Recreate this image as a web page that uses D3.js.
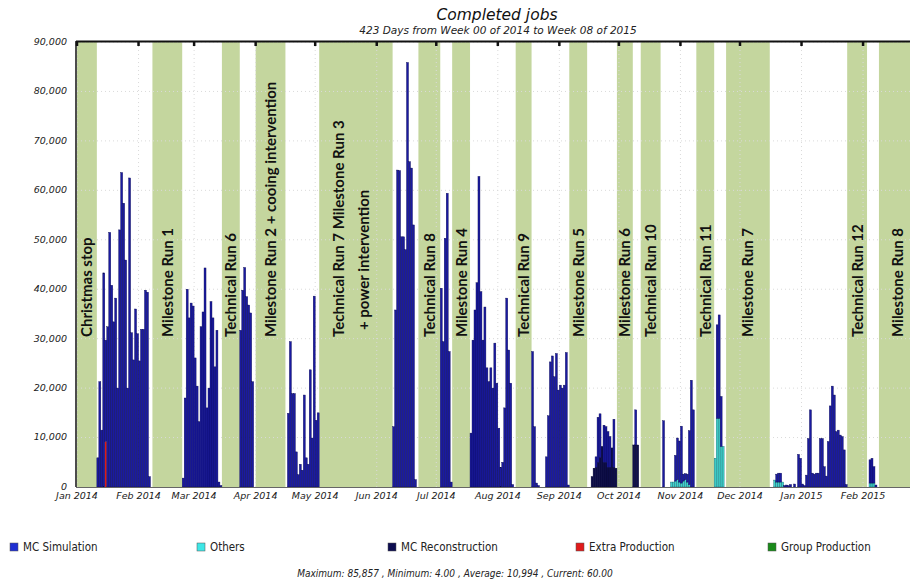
<!DOCTYPE html>
<html>
<head>
<meta charset="utf-8">
<script src="https://cdn.jsdelivr.net/npm/d3@7"></script>
<style>
  body { margin: 0; background: #fff; }
  svg { display: block; }
</style>
</head>
<body>
<div id="chart"></div>
<script>
// Daily completed jobs. Each run = [first day, values for consecutive days]
var simRuns = [
  ["2014-01-11", [5900, 21300, 11500, 43300, 20500, 32400, 51500, 40800, 33400, 38200, 20000, 52000, 63600, 57400,
                  45900, 20000, 62500, 31200, 25700, 36000, 31000, 25500, 31900, 31900, 39800, 39400, 2100]],
  ["2014-02-23", [1800, 18000, 40000, 34200, 37200, 36600, 26100, 20400, 13200, 32400, 35400, 44300, 16000, 20000,
                  37500, 34200, 24300, 31700, 1000, 300]],
  ["2014-03-24", [31700, 39800, 44400, 38500, 36800, 35200, 21300]],
  ["2014-04-17", [14900, 29400, 18900, 18900, 7100, 2500, 4600, 3400, 18600, 5900, 4600, 23700, 9900, 38600, 13500, 15000]],
  ["2014-06-09", [12200, 35800, 64100, 64000, 50600, 50600, 48000, 85857, 65800, 64500, 53000, 1500]],
  ["2014-07-03", [40200, 29400, 50300, 59400, 27400, 1000]],
  ["2014-07-18", [10900, 29700, 35800, 41300, 62800, 39500, 29700, 36400, 24100, 21300, 24100, 20000, 29100, 21000,
                  11900, 4000, 5000, 16000, 38200, 27700, 21000, 500]],
  ["2014-08-18", [27400, 12200, 800, 300]],
  ["2014-08-25", [6100, 14400, 25300, 26500, 22300, 27000, 19600, 20600, 20000, 20600, 27200, 400]],
  ["2014-09-17", [0, 0, 2100, 9100, 8800, 0, 7500, 7200, 7200, 6200, 0, 9700, 0]],
  ["2014-10-08", [0, 7100, 0]],
  ["2014-10-23", [13400]],
  ["2014-10-27", [0, 0, 5200, 8400, 8300, 11500, 1400, 1200, 1600, 10900, 21600, 15600]],
  ["2014-11-18", [0, 18900, 20900, 10100, 0]],
  ["2014-12-18", [0, 1600, 1800, 1800, 0, 300, 400, 300, 500, 0, 600, 0, 6600, 5800, 600, 300, 2400, 9800, 15600,
                  2800, 2600, 2800, 2800, 9800, 9800, 4100, 2200, 9200, 16400, 20400, 18600, 11200, 11500, 10500,
                  10200, 7500, 500]],
  ["2015-02-04", [4700, 5000, 3300, 400]]
];
var othersRuns = [
  ["2014-10-27", [1000, 1000, 1200, 1500, 1000, 800, 1200, 1500, 1000, 500]],
  ["2014-11-18", [5800, 13900, 13900, 8200, 8200]],
  ["2014-12-18", [1400, 1000, 1000, 1000, 1000]],
  ["2015-02-04", [800, 800, 800]]
];
var recoRuns = [
  ["2014-09-17", [2100, 3800, 4000, 5000, 6000, 8200, 5000, 5000, 4000, 4000, 7900, 4000, 3800]],
  ["2014-10-08", [8500, 8500, 8500]]
];
var extraRuns = [
  ["2014-01-15", [9200]]
];
var groupRuns = [];

// shaded run periods: [start, end, label lines]
var runBands = [
  ["2014-01-01", "2014-01-11", ["Christmas stop"]],
  ["2014-02-08", "2014-02-23", ["Milestone Run 1"]],
  ["2014-03-15", "2014-03-24", ["Technical Run 6"]],
  ["2014-04-01", "2014-04-16", ["Milestone Run 2 + cooing intervention"]],
  ["2014-05-03", "2014-06-09", ["Technical Run 7 Milestone Run 3", "+ power intervention"]],
  ["2014-06-22", "2014-07-03", ["Technical Run 8"]],
  ["2014-07-09", "2014-07-18", ["Milestone Run 4"]],
  ["2014-08-10", "2014-08-18", ["Technical Run 9"]],
  ["2014-09-06", "2014-09-15", ["Milestone Run 5"]],
  ["2014-09-30", "2014-10-08", ["Milestone Run 6"]],
  ["2014-10-12", "2014-10-22", ["Technical Run 10"]],
  ["2014-11-09", "2014-11-18", ["Technical Run 11"]],
  ["2014-11-24", "2014-12-16", ["Milestone Run 7"]],
  ["2015-01-24", "2015-02-03", ["Technical Run 12"]],
  ["2015-02-09", "2015-02-28", ["Milestone Run 8"]]
];

var yTicks = [0, 10000, 20000, 30000, 40000, 50000, 60000, 70000, 80000, 90000];
var monthTicks = ["2014-01-01", "2014-02-01", "2014-03-01", "2014-04-01", "2014-05-01", "2014-06-01", "2014-07-01",
                  "2014-08-01", "2014-09-01", "2014-10-01", "2014-11-01", "2014-12-01", "2015-01-01", "2015-02-01"];
var seriesNames = ["MC Simulation", "Others", "MC Reconstruction", "Extra Production", "Group Production"];
var statsText = "Maximum: 85,857 , Minimum: 4.00 , Average: 10,994 , Current: 60.00";

var startDay = "2014-01-01", endDay = "2015-02-28";

var W = 910, H = 582;
var plotLeft = 77, plotTop = 42, plotBottom = 487;
var pxPerDay = 1.985;

var parse = d3.utcParse("%Y-%m-%d");
var x = d3.scaleUtc()
    .domain([parse(startDay), parse(endDay)])
    .range([plotLeft, plotLeft + d3.utcDay.count(parse(startDay), parse(endDay)) * pxPerDay]);
var y = d3.scaleLinear().domain([0, 90000]).range([plotBottom, plotTop]);

// build one row per day
var keys = ["reco", "others", "extra", "group", "sim"];
var nDays = d3.utcDay.count(parse(startDay), parse(endDay));
var days = d3.range(nDays).map(function(i) {
    return { date: d3.utcDay.offset(parse(startDay), i), sim: 0, others: 0, reco: 0, extra: 0, group: 0 };
});
function fill(runs, key) {
    runs.forEach(function(r) {
        var i0 = d3.utcDay.count(parse(startDay), parse(r[0]));
        r[1].forEach(function(v, j) { if (days[i0 + j]) days[i0 + j][key] = v; });
    });
}
fill(simRuns, "sim"); fill(othersRuns, "others"); fill(recoRuns, "reco");
fill(extraRuns, "extra"); fill(groupRuns, "group");

var barColor = { sim: "#1a1aa0", others: "#40d2cc", reco: "#10104e", extra: "#e01818", group: "#1a8a1a" };
var barEdge = { sim: "#080850", others: "#14606a", reco: "#05052a", extra: "none", group: "#0a400a" };
var legendColor = ["#1f2fd2", "#3ee6e6", "#0c0c50", "#e01b1b", "#1a8a1a"];

var svg = d3.select("#chart").append("svg").attr("width", W).attr("height", H);
svg.append("defs").append("clipPath").attr("id", "plotclip")
    .append("rect").attr("x", plotLeft).attr("y", plotTop).attr("width", W - plotLeft).attr("height", plotBottom - plotTop);

var plot = svg.append("g").attr("clip-path", "url(#plotclip)");

// green run bands
plot.selectAll(".band").data(runBands).enter().append("rect")
    .attr("x", function(d) { return x(parse(d[0])); })
    .attr("width", function(d) { return x(parse(d[1])) - x(parse(d[0])); })
    .attr("y", plotTop).attr("height", plotBottom - plotTop)
    .attr("fill", "#c4d69e");

// dotted grid
plot.selectAll(".hgrid").data(yTicks.slice(1)).enter().append("line")
    .attr("x1", plotLeft).attr("x2", W)
    .attr("y1", function(d) { return y(d); }).attr("y2", function(d) { return y(d); })
    .attr("stroke", "#dadada").attr("stroke-dasharray", "1,3").attr("stroke-width", 1);
plot.selectAll(".vgrid").data(monthTicks).enter().append("line")
    .attr("x1", function(d) { return x(parse(d)); }).attr("x2", function(d) { return x(parse(d)); })
    .attr("y1", plotTop).attr("y2", plotBottom)
    .attr("stroke", "#dadada").attr("stroke-dasharray", "1,3").attr("stroke-width", 1);

// stacked daily bars
var stack = d3.stack().keys(keys)(days);
stack.forEach(function(layer) {
    var key = layer.key;
    plot.append("g").selectAll("rect")
        .data(layer.filter(function(d) { return d[1] - d[0] > 0; }))
        .enter().append("rect")
        .attr("x", function(d) { return x(d.data.date); })
        .attr("width", function(d) { return x(d3.utcDay.offset(d.data.date, 1)) - x(d.data.date); })
        .attr("y", function(d) { return y(d[1]); })
        .attr("height", function(d) { return y(d[0]) - y(d[1]); })
        .attr("fill", barColor[key])
        .attr("stroke", barEdge[key])
        .attr("stroke-width", 0.4);
});

// band labels, rotated
runBands.forEach(function(b) {
    var cx = (x(parse(b[0])) + x(parse(b[1]))) / 2;
    var n = b[2].length;
    b[2].forEach(function(line, i) {
        var lx = n > 1 ? cx + (i - (n - 1) / 2) * 25 - 5 : cx;
        svg.append("text")
            .attr("transform", "translate(" + lx + "," + (i > 0 ? 330 : 337) + ") rotate(-90)")
            .attr("dy", "0.36em")
            .attr("font-family", "Lato, 'Open Sans', sans-serif")
            .attr("font-weight", 700)
            .attr("font-size", 15)
            .attr("fill", "#111")
            .text(line);
    });
});

// frame
svg.append("line").attr("x1", plotLeft - 1).attr("x2", W).attr("y1", plotTop - 0.5).attr("y2", plotTop - 0.5)
    .attr("stroke", "#111").attr("stroke-width", 2);
svg.append("line").attr("x1", plotLeft - 1).attr("x2", plotLeft - 1).attr("y1", plotTop - 1).attr("y2", plotBottom)
    .attr("stroke", "#111").attr("stroke-width", 1.5);
svg.append("line").attr("x1", plotLeft - 1).attr("x2", W).attr("y1", plotBottom + 0.5).attr("y2", plotBottom + 0.5)
    .attr("stroke", "#666").attr("stroke-width", 1);
svg.selectAll(".ttick").data(monthTicks).enter().append("line")
    .attr("x1", function(d) { return x(parse(d)); }).attr("x2", function(d) { return x(parse(d)); })
    .attr("y1", plotTop).attr("y2", plotTop + 4)
    .attr("stroke", "#111").attr("stroke-width", 2.5);

// y axis labels
svg.selectAll(".ylab").data(yTicks).enter().append("text")
    .attr("x", 67).attr("y", function(d) { return y(d); }).attr("dy", "0.3em")
    .attr("text-anchor", "end")
    .attr("font-family", "'DejaVu Sans', sans-serif").attr("font-style", "italic").attr("font-size", 9.5)
    .attr("fill", "#222")
    .text(function(d) { return d3.format(",")(d); });

// x axis labels
var fmtMonth = d3.utcFormat("%b %Y");
svg.selectAll(".xlab").data(monthTicks).enter().append("text")
    .attr("x", function(d) { return x(parse(d)); }).attr("y", 499)
    .attr("text-anchor", "middle")
    .attr("font-family", "'DejaVu Sans', sans-serif").attr("font-style", "italic").attr("font-size", 9.5)
    .attr("fill", "#222")
    .text(function(d) { return fmtMonth(parse(d)); });

// titles
svg.append("text").attr("x", 497).attr("y", 20).attr("text-anchor", "middle")
    .attr("font-family", "'DejaVu Sans', sans-serif").attr("font-style", "italic").attr("font-size", 15.5)
    .attr("fill", "#111").text("Completed jobs");
svg.append("text").attr("x", 498).attr("y", 34).attr("text-anchor", "middle")
    .attr("font-family", "'DejaVu Sans', sans-serif").attr("font-style", "italic").attr("font-size", 10.5)
    .attr("fill", "#222").text("423 Days from Week 00 of 2014 to Week 08 of 2015");

// legend
var legendX = [10, 197, 388, 576, 768];
var lg = svg.selectAll(".lg").data(seriesNames).enter().append("g")
    .attr("transform", function(d, i) { return "translate(" + legendX[i] + ",543)"; });
lg.append("rect").attr("width", 8).attr("height", 8)
    .attr("fill", function(d, i) { return legendColor[i]; })
    .attr("stroke", "#555").attr("stroke-width", 0.5);
lg.append("text").attr("x", 13).attr("y", 8)
    .attr("font-family", "'DejaVu Sans Condensed', 'DejaVu Sans', sans-serif").attr("font-size", 11.5)
    .attr("fill", "#222").text(function(d) { return d; });

svg.append("text").attr("x", 455).attr("y", 577).attr("text-anchor", "middle")
    .attr("font-family", "'DejaVu Sans Condensed', 'DejaVu Sans', sans-serif").attr("font-style", "italic")
    .attr("font-size", 10).attr("fill", "#222").text(statsText);
</script>
</body>
</html>
